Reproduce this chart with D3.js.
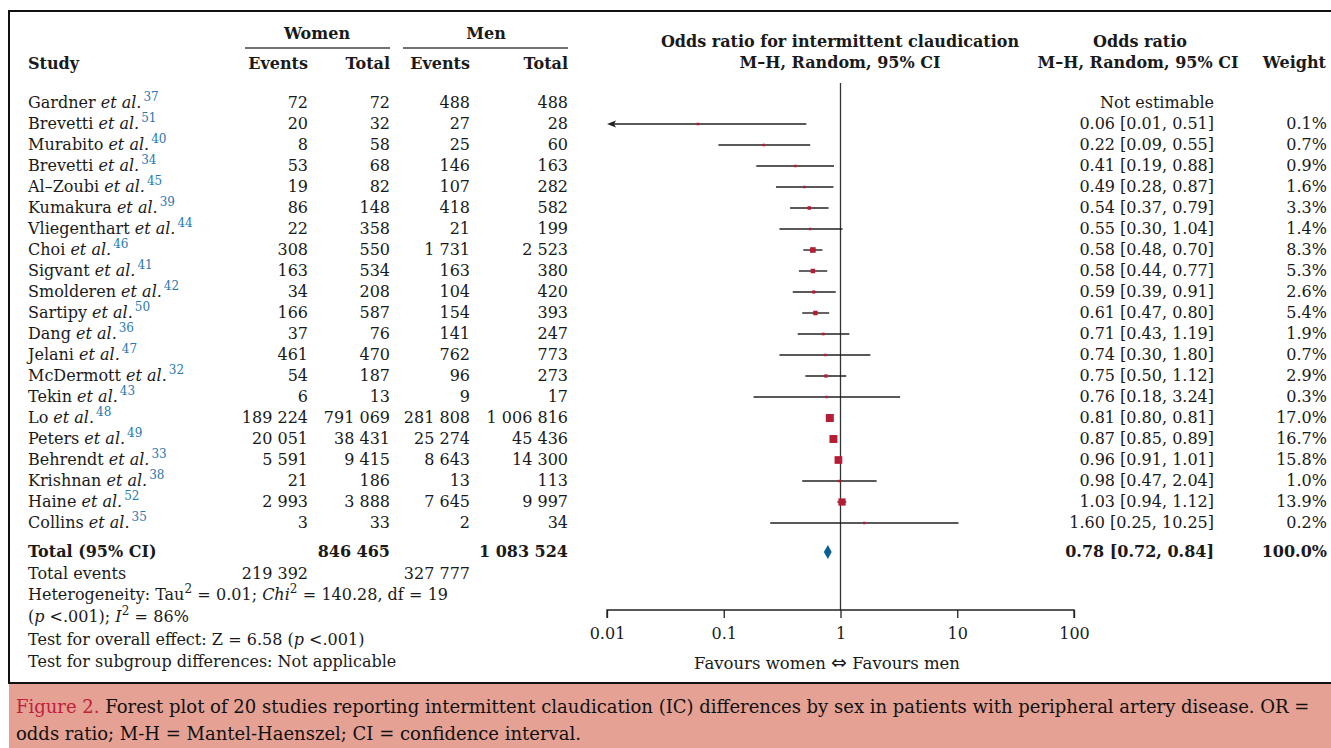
<!DOCTYPE html>
<html>
<head>
<meta charset="utf-8">
<script src="https://cdn.jsdelivr.net/npm/d3@7"></script>
<style>
  body { margin: 0; background: #fff; }
  svg { display: block; font-family: 'DejaVu Serif', serif; }
</style>
</head>
<body>
<svg id="chart" width="1331" height="748"></svg>
<script>
// study rows
const studies = ['Gardner', 'Brevetti', 'Murabito', 'Brevetti', 'Al–Zoubi', 'Kumakura', 'Vliegenthart', 'Choi', 'Sigvant', 'Smolderen', 'Sartipy', 'Dang', 'Jelani', 'McDermott', 'Tekin', 'Lo', 'Peters', 'Behrendt', 'Krishnan', 'Haine', 'Collins']
const refs = [37, 51, 40, 34, 45, 39, 44, 46, 41, 42, 50, 36, 47, 32, 43, 48, 49, 33, 38, 52, 35]
const womenEvents = [72, 20, 8, 53, 19, 86, 22, 308, 163, 34, 166, 37, 461, 54, 6, 189224, 20051, 5591, 21, 2993, 3]
const womenTotal = [72, 32, 58, 68, 82, 148, 358, 550, 534, 208, 587, 76, 470, 187, 13, 791069, 38431, 9415, 186, 3888, 33]
const menEvents = [488, 27, 25, 146, 107, 418, 21, 1731, 163, 104, 154, 141, 762, 96, 9, 281808, 25274, 8643, 13, 7645, 2]
const menTotal = [488, 28, 60, 163, 282, 582, 199, 2523, 380, 420, 393, 247, 773, 273, 17, 1006816, 45436, 14300, 113, 9997, 34]
const oddsRatio = [null, 0.06, 0.22, 0.41, 0.49, 0.54, 0.55, 0.58, 0.58, 0.59, 0.61, 0.71, 0.74, 0.75, 0.76, 0.81, 0.87, 0.96, 0.98, 1.03, 1.60]
const ciLow = [null, 0.01, 0.09, 0.19, 0.28, 0.37, 0.30, 0.48, 0.44, 0.39, 0.47, 0.43, 0.30, 0.50, 0.18, 0.80, 0.85, 0.91, 0.47, 0.94, 0.25]
const ciHigh = [null, 0.51, 0.55, 0.88, 0.87, 0.79, 1.04, 0.70, 0.77, 0.91, 0.80, 1.19, 1.80, 1.12, 3.24, 0.81, 0.89, 1.01, 2.04, 1.12, 10.25]
const weights = [null, 0.1, 0.7, 0.9, 1.6, 3.3, 1.4, 8.3, 5.3, 2.6, 5.4, 1.9, 0.7, 2.9, 0.3, 17.0, 16.7, 15.8, 1.0, 13.9, 0.2]

// pooled estimate
const pooled = { or: 0.78, low: 0.72, high: 0.84, weight: 100.0 }

// axis
const axisTicks = [0.01, 0.1, 1, 10, 100]
const axisTickLabels = ['0.01', '0.1', '1', '10', '100']

const RED = '#b71c36'
const BLUE = '#0b5e91'
const REF = '#2a78b0'
const FS = 16

const svg = d3.select('#chart')

const locale = d3.formatLocale({ decimal: '.', thousands: ' ', grouping: [3], currency: ['', ''] })
const fmtInt = locale.format(',d')
const fmt2 = d3.format('.2f')

const rows = studies.map((name, i) => ({
  name,
  ref: refs[i],
  we: womenEvents[i],
  wt: womenTotal[i],
  me: menEvents[i],
  mt: menTotal[i],
  or: oddsRatio[i],
  lo: ciLow[i],
  hi: ciHigh[i],
  w: weights[i],
}))

const y = d3.scaleLinear().domain([0, rows.length - 1]).range([103, 523])
const x = d3.scaleLog().domain([0.01, 100]).range([607, 1074])
const size = d3.scaleSqrt().domain([0, 17]).range([0, 8])

// frame + caption
svg.append('rect').attr('x', 9).attr('y', 683).attr('width', 1330).attr('height', 70).attr('fill', '#e4a194')
svg.append('rect').attr('x', 9).attr('y', 11).attr('width', 1330).attr('height', 672)
  .attr('fill', 'none').attr('stroke', '#111').attr('stroke-width', 2)

// rich text helper
const rich = (sel, parts) => {
  let raised = 0
  parts.forEach((p) => {
    const ts = sel.append('tspan').text(p.t)
    let dy = 0
    if (p.sup && !raised) { dy = -7; raised = 1 }
    else if (!p.sup && raised) { dy = 7; raised = 0 }
    if (dy) ts.attr('dy', dy)
    if (p.dx) ts.attr('dx', p.dx)
    if (p.i) ts.attr('font-style', 'italic')
    if (p.b) ts.attr('font-weight', 'bold')
    if (p.sup) ts.attr('font-size', p.fs || 12)
    if (p.fill) ts.attr('fill', p.fill)
    if (p.font) ts.attr('font-family', p.font)
    if (p.size) ts.attr('font-size', p.size)
  })
}

const txt = (xp, yp, s, anchor = 'start', opts = {}) => svg.append('text')
  .attr('x', xp).attr('y', yp).attr('text-anchor', anchor)
  .attr('font-size', opts.size || FS)
  .attr('font-weight', opts.bold ? 'bold' : null)
  .attr('fill', opts.fill || '#1a1a1a')
  .text(s)

// headers
txt(317, 39, 'Women', 'middle', { bold: true })
txt(486, 39, 'Men', 'middle', { bold: true })
svg.append('line').attr('x1', 245).attr('x2', 390).attr('y1', 48).attr('y2', 48).attr('stroke', '#444').attr('stroke-width', 1.5)
svg.append('line').attr('x1', 403).attr('x2', 568).attr('y1', 48).attr('y2', 48).attr('stroke', '#444').attr('stroke-width', 1.5)
txt(28, 69, 'Study', 'start', { bold: true })
txt(308, 69, 'Events', 'end', { bold: true })
txt(390, 69, 'Total', 'end', { bold: true })
txt(470, 69, 'Events', 'end', { bold: true })
txt(568, 69, 'Total', 'end', { bold: true })
txt(840, 47, 'Odds ratio for intermittent claudication', 'middle', { bold: true })
txt(840, 68, 'M–H, Random, 95% CI', 'middle', { bold: true })
txt(1140, 47, 'Odds ratio', 'middle', { bold: true })
txt(1138, 68, 'M–H, Random, 95% CI', 'middle', { bold: true })
txt(1326, 68, 'Weight', 'end', { bold: true })

// study names and counts
const g = svg.append('g')
rows.forEach((d, i) => {
  const yy = y(i) + 5
  const t = g.append('text').attr('x', 28).attr('y', yy).attr('font-size', FS).attr('fill', '#1a1a1a')
  rich(t, [{ t: d.name + ' ' }, { t: 'et al.', i: true }, { t: d.ref, sup: true, fill: REF, dx: 2 }])
  txt(308, yy, fmtInt(d.we), 'end')
  txt(390, yy, fmtInt(d.wt), 'end')
  txt(470, yy, fmtInt(d.me), 'end')
  txt(568, yy, fmtInt(d.mt), 'end')
  if (d.or == null) {
    txt(1214, yy, 'Not estimable', 'end')
  } else {
    txt(1214, yy, `${fmt2(d.or)} [${fmt2(d.lo)}, ${fmt2(d.hi)}]`, 'end')
    txt(1327, yy, d3.format('.1f')(d.w) + '%', 'end')
  }
})

// reference line at OR = 1
svg.append('line').attr('x1', x(1)).attr('x2', x(1)).attr('y1', 83).attr('y2', 610)
  .attr('stroke', '#333').attr('stroke-width', 1.3)

// confidence intervals
const est = rows.filter((d) => d.or != null)
const ci = svg.append('g')
est.forEach((d) => {
  const i = rows.indexOf(d)
  const clipped = d.lo <= x.domain()[0]
  ci.append('line')
    .attr('x1', clipped ? x(x.domain()[0]) + 6 : x(d.lo)).attr('x2', x(d.hi))
    .attr('y1', y(i)).attr('y2', y(i))
    .attr('stroke', '#222').attr('stroke-width', 1.4)
  if (clipped) {
    const ax = x(x.domain()[0])
    ci.append('path')
      .attr('d', `M${ax},${y(i)} L${ax + 9},${y(i) - 3.5} L${ax + 7},${y(i)} L${ax + 9},${y(i) + 3.5} Z`)
      .attr('fill', '#222')
  }
  const s = Math.max(2.5, size(d.w))
  ci.append('rect')
    .attr('x', x(d.or) - s / 2).attr('y', y(i) - s / 2)
    .attr('width', s).attr('height', s)
    .attr('fill', RED)
})

// totals
const yT = 552
txt(28, yT + 5, 'Total (95% CI)', 'start', { bold: true })
txt(390, yT + 5, fmtInt(d3.sum(womenTotal)), 'end', { bold: true })
txt(568, yT + 5, fmtInt(d3.sum(menTotal)), 'end', { bold: true })
txt(1214, yT + 5, `${fmt2(pooled.or)} [${fmt2(pooled.low)}, ${fmt2(pooled.high)}]`, 'end', { bold: true })
txt(1327, yT + 5, d3.format('.1f')(pooled.weight) + '%', 'end', { bold: true })
svg.append('path')
  .attr('d', `M${x(pooled.low)},${yT} L${x(pooled.or)},${yT - 7} L${x(pooled.high)},${yT} L${x(pooled.or)},${yT + 7} Z`)
  .attr('fill', BLUE)

txt(28, 579, 'Total events')
txt(308, 579, fmtInt(d3.sum(womenEvents)), 'end')
txt(470, 579, fmtInt(d3.sum(menEvents)), 'end')

const het = svg.append('text').attr('x', 28).attr('y', 600).attr('font-size', FS).attr('fill', '#1a1a1a')
rich(het, [{ t: 'Heterogeneity: Tau' }, { t: '2', sup: true }, { t: '\u2004=\u20040.01; ' }, { t: 'Chi', i: true }, { t: '2', sup: true }, { t: '\u2004=\u2004140.28, df\u2004=\u200419' }])
const het2 = svg.append('text').attr('x', 28).attr('y', 622).attr('font-size', FS).attr('fill', '#1a1a1a')
rich(het2, [{ t: '(' }, { t: 'p', i: true }, { t: ' <.001); ' }, { t: 'I', i: true }, { t: '2', sup: true }, { t: '\u2004=\u200486%' }])
const ov = svg.append('text').attr('x', 28).attr('y', 645).attr('font-size', FS).attr('fill', '#1a1a1a')
rich(ov, [{ t: 'Test for overall effect: Z\u2004=\u20046.58 (' }, { t: 'p', i: true }, { t: ' <.001)' }])
txt(28, 667, 'Test for subgroup differences: Not applicable')

// x axis
const axis = svg.append('g').attr('transform', 'translate(0,610)')
  .call(d3.axisBottom(x).tickValues(axisTicks).tickFormat((d, i) => axisTickLabels[i]).tickSize(8).tickPadding(10))
axis.select('.domain').attr('stroke', '#222').attr('stroke-width', 1.3).attr('d', `M${x(0.01)},8V0H${x(100)}V8`)
axis.selectAll('.tick line').attr('stroke', '#222').attr('stroke-width', 1.3)
axis.selectAll('.tick text').attr('font-family', 'DejaVu Serif').attr('font-size', FS).attr('fill', '#1a1a1a')

const fav = svg.append('text').attr('x', 827).attr('y', 669).attr('text-anchor', 'middle')
  .attr('font-size', 16.5).attr('fill', '#1a1a1a')
rich(fav, [{ t: 'Favours women ' }, { t: '\u21D4', font: 'DejaVu Sans', size: 19 }, { t: ' Favours men' }])

// caption
const cap1 = svg.append('text').attr('x', 16).attr('y', 713).attr('font-size', 18).attr('fill', '#111')
rich(cap1, [{ t: 'Figure 2.', fill: '#c0203a' }, { t: ' Forest plot of 20 studies reporting intermittent claudication (IC) differences by sex in patients with peripheral artery disease. OR =' }])
txt(16, 740, 'odds ratio; M-H = Mantel-Haenszel; CI = confidence interval.', 'start', { size: 18, fill: '#111' })
</script>
</body>
</html>
